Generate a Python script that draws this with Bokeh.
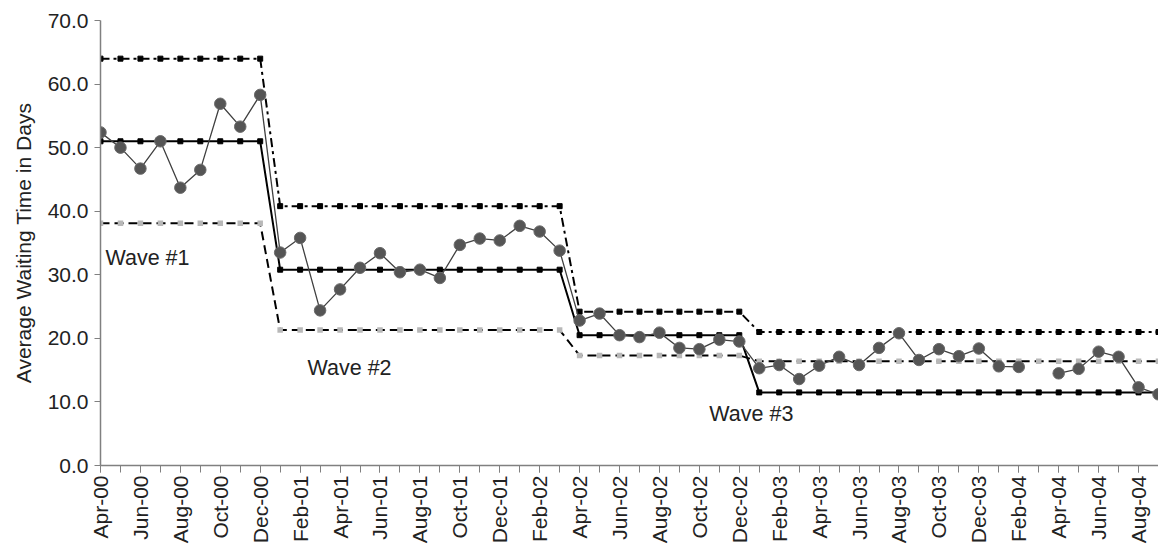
import math
from bokeh.plotting import figure
from bokeh.models import Range1d, FixedTicker, NumeralTickFormatter, Label, ColumnDataSource
from bokeh.embed import file_html
from bokeh.resources import INLINE

# ---- data ----
# monthly average waiting time, Apr-00 (index 0) .. Sep-04 (index 53); Mar-04 missing
waiting = [52.4, 50.0, 46.7, 51.0, 43.7, 46.5, 56.9, 53.3, 58.3,
           33.5, 35.8, 24.4, 27.7, 31.1, 33.4, 30.4, 30.8, 29.5, 34.7, 35.7, 35.4, 37.7, 36.8, 33.8,
           22.8, 23.9, 20.5, 20.2, 20.9, 18.5, 18.3, 19.8, 19.5,
           15.3, 15.8, 13.6, 15.7, 17.1, 15.8, 18.5, 20.8, 16.6, 18.3, 17.2, 18.4, 15.6, 15.5,
           float("nan"), 14.5, 15.2, 17.9, 17.1, 12.3, 11.2]

# control limits per wave segment (number of months in each segment)
segment_len = [9, 15, 9, 21]
segment_ucl = [64.0, 40.8, 24.2, 21.0]
segment_mean = [51.0, 30.8, 20.5, 11.5]
segment_lcl = [38.1, 21.3, 17.3, 16.4]

tick_labels = ["Apr-00", "Jun-00", "Aug-00", "Oct-00", "Dec-00", "Feb-01", "Apr-01", "Jun-01",
               "Aug-01", "Oct-01", "Dec-01", "Feb-02", "Apr-02", "Jun-02", "Aug-02", "Oct-02",
               "Dec-02", "Feb-03", "Apr-03", "Jun-03", "Aug-03", "Oct-03", "Dec-03", "Feb-04",
               "Apr-04", "Jun-04", "Aug-04"]

wave_labels = ["Wave #1", "Wave #2", "Wave #3"]
wave_label_x = [0.25, 10.37, 30.5]
wave_label_y = [32.6, 15.3, 8.1]

# ---- build per-month arrays ----
month = list(range(len(waiting)))
ucl, mean, lcl = [], [], []
for n, u, m, l in zip(segment_len, segment_ucl, segment_mean, segment_lcl):
    ucl += [u] * n
    mean += [m] * n
    lcl += [l] * n

src = ColumnDataSource(dict(month=month, waiting=waiting, ucl=ucl, mean=mean, lcl=lcl))

FONT = "Liberation Sans"

p = figure(width=1158, height=546, x_range=Range1d(0, 53), y_range=Range1d(0, 70),
           output_backend="svg", toolbar_location=None,
           min_border_left=100, min_border_right=0, min_border_top=20, min_border_bottom=78)
p.xgrid.visible = False
p.ygrid.visible = False
p.outline_line_color = None
p.background_fill_color = "white"

# UCL
p.line("month", "ucl", source=src, line_color="black", line_width=2, line_dash="9 4 3 4")
p.scatter("month", "ucl", source=src, marker="square", size=5, fill_color="black", line_color="black")
# center line
p.line("month", "mean", source=src, line_color="black", line_width=2)
p.scatter("month", "mean", source=src, marker="square", size=5, fill_color="black", line_color="black")
# LCL
p.line("month", "lcl", source=src, line_color="black", line_width=2, line_dash="9 5")
p.scatter("month", "lcl", source=src, marker="square", size=5.5, fill_color="#b8b8b8", line_color=None)
# data
p.line("month", "waiting", source=src, line_color="#404040", line_width=1.3)
p.scatter("month", "waiting", source=src, marker="circle", size=11.5,
          fill_color="#555555", line_color="#6a6a6a", line_width=1)

for t, x, y in zip(wave_labels, wave_label_x, wave_label_y):
    p.add_layout(Label(x=x, y=y, text=t, text_font=FONT, text_font_size="21.5px",
                       text_baseline="middle", text_color="#222222"))

# axes
for ax in (p.xaxis, p.yaxis):
    ax.axis_line_color = "#808080"
    ax.axis_line_width = 1.5
    ax.major_tick_line_color = "#808080"
    ax.minor_tick_line_color = "#808080"
    ax.major_label_text_font = FONT
    ax.major_label_text_font_size = "21px"
    ax.major_label_text_color = "#222222"

p.xaxis.ticker = FixedTicker(ticks=list(range(0, 54, 2)), minor_ticks=list(range(0, 54)))
p.xaxis.major_label_overrides = {m: lab for m, lab in zip(range(0, 54, 2), tick_labels)}
p.xaxis.major_label_orientation = math.pi / 2
p.xaxis.major_tick_out = 7
p.xaxis.major_tick_in = 0
p.xaxis.minor_tick_out = 7
p.xaxis.minor_tick_in = 0
p.xaxis.major_label_standoff = 3

p.yaxis.ticker = FixedTicker(ticks=list(range(0, 71, 10)))
p.yaxis.formatter = NumeralTickFormatter(format="0.0")
p.yaxis.minor_tick_line_color = None
p.yaxis.major_tick_out = 6
p.yaxis.major_tick_in = 0
p.yaxis.major_label_standoff = 6
p.yaxis.axis_label = "Average Waiting Time in Days"
p.yaxis.axis_label_text_font = FONT
p.yaxis.axis_label_text_font_size = "21px"
p.yaxis.axis_label_text_font_style = "normal"
p.yaxis.axis_label_text_color = "#222222"
p.yaxis.axis_label_standoff = 10

open("out.html", "w").write(file_html(p, INLINE))
